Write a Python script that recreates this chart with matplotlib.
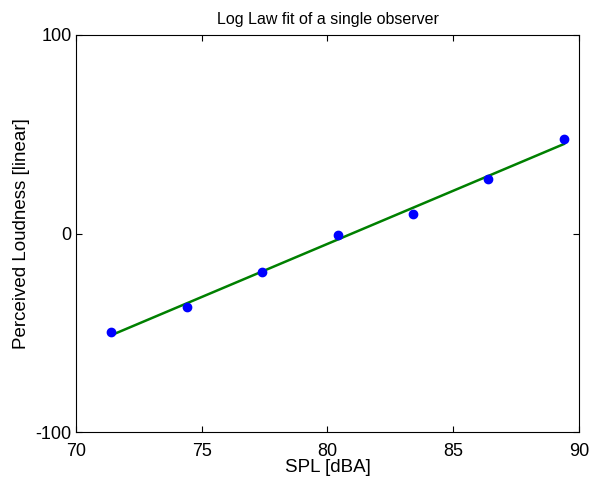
import numpy as np
import matplotlib

matplotlib.use("Agg")
import matplotlib.pyplot as plt

# single observer: SPL levels and perceived loudness ratings
spl_dba = [71.4, 74.4, 77.4, 80.4, 83.4, 86.4, 89.4]
loudness = [-49.5, -36.9, -19.5, -0.6, 9.7, 27.6, 47.6]
x_ticks = [70, 75, 80, 85, 90]
y_ticks = [-100, 0, 100]

plt.rcParams.update({
    "font.family": ["Liberation Sans", "DejaVu Sans"],
    "font.size": 13,
    "axes.unicode_minus": False,
})

fig = plt.figure(figsize=(5.9, 4.82), dpi=100)
ax = fig.add_axes([0.1288, 0.1037, 0.8525, 0.8237])

x = np.asarray(spl_dba)
y = np.asarray(loudness)
slope, icpt = np.polyfit(x, y, 1)

ax.plot(x, y, "o", color="#0000ff", markersize=6, zorder=3)
ax.plot(x, slope * x + icpt, color="#008000", linewidth=1.8, zorder=2)

ax.set_xlim(70, 90)
ax.set_ylim(-100, 100)
ax.set_xticks(x_ticks)
ax.set_yticks(y_ticks)
ax.tick_params(direction="in", top=True, right=True, length=4, width=0.8, labelsize=13)
ax.tick_params(axis="x", pad=8)
ax.tick_params(axis="y", pad=3)
for s in ax.spines.values():
    s.set_linewidth(0.8)

ax.set_title("Log Law fit of a single observer", fontsize=11.5, pad=8)
ax.set_xlabel("SPL [dBA]", fontsize=13.5, labelpad=-1)
ax.set_ylabel("Perceived Loudness [linear]", fontsize=13.5, labelpad=4)

fig.savefig("out.png", dpi=100)
